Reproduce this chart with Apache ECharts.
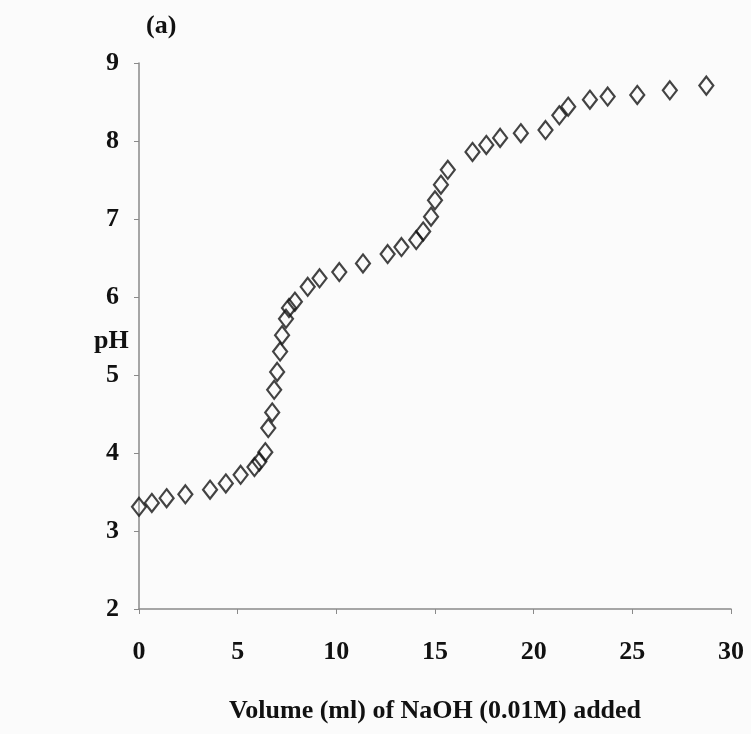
<!DOCTYPE html>
<html>
<head>
<meta charset="utf-8">
<script src="https://cdn.jsdelivr.net/npm/echarts@6/dist/echarts.min.js"></script>
<style>
  html, body { margin: 0; padding: 0; background: #fbfbfb; }
  #chart { width: 751px; height: 734px; }
</style>
</head>
<body>
<div id="chart"></div>
<script>
const volumeMl = [
    0.0, 0.65, 1.4, 2.35, 3.6, 4.4, 5.15, 5.85, 6.1, 6.4,
    6.55, 6.75, 6.85, 7.0, 7.15, 7.25, 7.45, 7.6, 7.9, 8.55,
    9.15, 10.15, 11.35, 12.6, 13.3, 14.05, 14.4, 14.8, 15.0, 15.3,
    15.65, 16.9, 17.6, 18.3, 19.35, 20.6, 21.3, 21.75, 22.85, 23.75,
    25.25, 26.9, 28.75,
];
const pH = [
    3.31, 3.36, 3.42, 3.47, 3.53, 3.61, 3.72, 3.82, 3.89, 4.01,
    4.32, 4.52, 4.81, 5.04, 5.30, 5.51, 5.72, 5.86, 5.94, 6.13,
    6.24, 6.32, 6.43, 6.55, 6.64, 6.73, 6.84, 7.03, 7.24, 7.44,
    7.63, 7.86, 7.95, 8.04, 8.10, 8.14, 8.33, 8.44, 8.53, 8.57,
    8.59, 8.65, 8.71,
];
const xTicks = [0, 5, 10, 15, 20, 25, 30];
const yTicks = [2, 3, 4, 5, 6, 7, 8, 9];

const fontFamily = '"Liberation Serif", "Times New Roman", serif';
const axisGray = '#8a8a8a';
const ink = '#111';

const chart = echarts.init(document.getElementById('chart'), null, { renderer: 'canvas' });

chart.setOption({
    animation: false,
    backgroundColor: '#fbfbfb',
    textStyle: { fontFamily },
    grid: { left: 139, right: 20, top: 63, bottom: 125 },
    graphic: [
        {
            type: 'text', left: 146, top: 13,
            style: { text: '(a)', fontFamily, fontSize: 26, fontWeight: 'bold', fill: ink },
        },
        {
            type: 'text', left: 94, top: 328,
            style: { text: 'pH', fontFamily, fontSize: 26, fontWeight: 'bold', fill: ink },
        },
    ],
    xAxis: {
        type: 'value',
        min: xTicks[0],
        max: xTicks[xTicks.length - 1],
        interval: 5,
        name: 'Volume (ml) of NaOH (0.01M) added',
        nameLocation: 'middle',
        nameGap: 89,
        nameTextStyle: { color: ink, fontFamily, fontSize: 26, fontWeight: 'bold' },
        axisLine: { lineStyle: { color: axisGray, width: 1.5 } },
        axisTick: { show: true, length: 5, lineStyle: { color: axisGray } },
        axisLabel: { color: ink, fontFamily, fontSize: 26, fontWeight: 'bold', margin: 30 },
        splitLine: { show: false },
    },
    yAxis: {
        type: 'value',
        min: yTicks[0],
        max: yTicks[yTicks.length - 1],
        interval: 1,
        axisLine: { show: true, lineStyle: { color: axisGray, width: 1.5 } },
        axisTick: { show: true, length: 5, lineStyle: { color: axisGray } },
        axisLabel: { color: ink, fontFamily, fontSize: 26, fontWeight: 'bold', margin: 20 },
        splitLine: { show: false },
    },
    series: [{
        type: 'scatter',
        data: volumeMl.map((v, i) => [v, pH[i]]),
        symbol: 'diamond',
        symbolSize: [14, 18],
        itemStyle: { color: 'rgba(0,0,0,0)', borderColor: '#151515', borderWidth: 2.2 },
    }],
});
</script>
</body>
</html>
